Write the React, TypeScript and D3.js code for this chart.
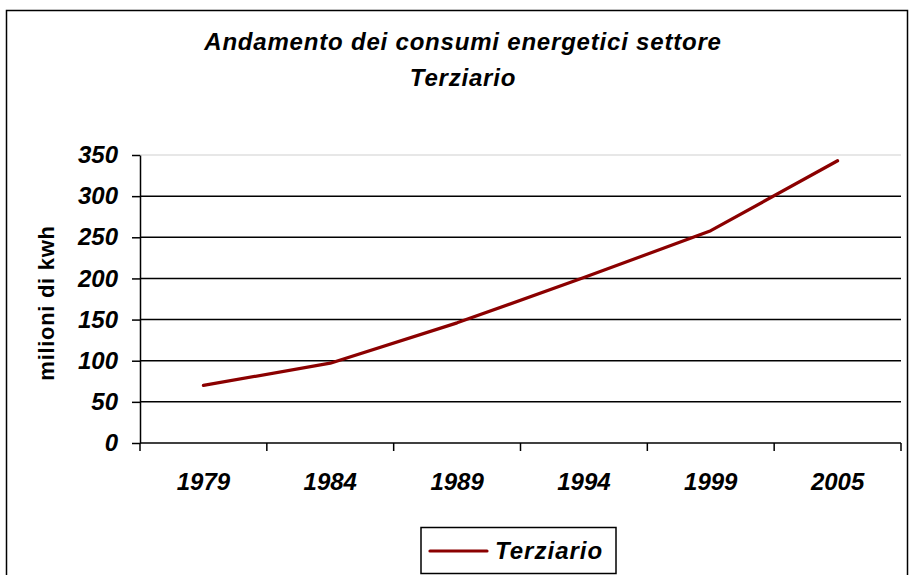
import React, { useEffect, useRef } from "react";
import * as d3 from "d3";

const years = ["1979", "1984", "1989", "1994", "1999", "2005"];
const terziario = [70, 97, 146, 201, 258, 343];
const yTicks = [0, 50, 100, 150, 200, 250, 300, 350];

const W = 909;
const H = 575;
const FONT = "'Liberation Sans', Arial, sans-serif";

const App: React.FC = () => {
  const ref = useRef<SVGSVGElement | null>(null);

  useEffect(() => {
    const svg = d3.select(ref.current);
    svg.selectAll("*").remove();

    const plot = { left: 140, right: 901, top: 155, bottom: 443 };

    const x = d3.scaleBand<string>().domain(years).range([plot.left, plot.right]);
    const y = d3.scaleLinear().domain([0, 350]).range([plot.bottom, plot.top]);

    // outer frame
    svg
      .append("rect")
      .attr("x", 6.5)
      .attr("y", 10.5)
      .attr("width", 901)
      .attr("height", 580)
      .attr("fill", "#fff")
      .attr("stroke", "#000")
      .attr("stroke-width", 1.5);

    // title
    const title = svg
      .append("text")
      .attr("text-anchor", "middle")
      .attr("font-family", FONT)
      .attr("font-weight", "bold")
      .attr("font-style", "italic")
      .attr("font-size", 24)
      .attr("letter-spacing", 0.8)
      .attr("fill", "#000");
    title.append("tspan").attr("x", 463).attr("y", 50).text("Andamento dei consumi energetici settore");
    title.append("tspan").attr("x", 463).attr("y", 86).text("Terziario");

    // top border of plot area (light)
    svg
      .append("line")
      .attr("x1", plot.left)
      .attr("x2", plot.right)
      .attr("y1", y(350))
      .attr("y2", y(350))
      .attr("stroke", "#cfcfcf")
      .attr("stroke-width", 1.2);

    // gridlines
    svg
      .append("g")
      .selectAll("line")
      .data(yTicks.filter((t) => t > 0 && t < 350))
      .enter()
      .append("line")
      .attr("x1", plot.left)
      .attr("x2", plot.right)
      .attr("y1", (d) => y(d))
      .attr("y2", (d) => y(d))
      .attr("stroke", "#000")
      .attr("stroke-width", 1.5);

    // y axis
    const yAxis = svg
      .append("g")
      .attr("transform", `translate(${plot.left},0)`)
      .call(d3.axisLeft(y).tickValues(yTicks).tickSize(8).tickSizeOuter(0).tickPadding(14));
    yAxis.select(".domain").attr("stroke", "#000").attr("stroke-width", 1.5);
    yAxis.selectAll(".tick line").attr("stroke", "#000").attr("stroke-width", 1.5);
    yAxis
      .selectAll(".tick text")
      .attr("font-family", FONT)
      .attr("font-weight", "bold")
      .attr("font-style", "italic")
      .attr("font-size", 24)
      .attr("fill", "#000");

    // x axis: ticks at band boundaries
    const xAxisG = svg.append("g");
    xAxisG
      .append("line")
      .attr("x1", plot.left)
      .attr("x2", plot.right)
      .attr("y1", plot.bottom)
      .attr("y2", plot.bottom)
      .attr("stroke", "#000")
      .attr("stroke-width", 1.5);
    const boundaries = years.map((d) => x(d) as number).concat([plot.right]);
    xAxisG
      .selectAll("line.tk")
      .data(boundaries)
      .enter()
      .append("line")
      .attr("class", "tk")
      .attr("x1", (d) => d)
      .attr("x2", (d) => d)
      .attr("y1", plot.bottom)
      .attr("y2", plot.bottom + 8)
      .attr("stroke", "#000")
      .attr("stroke-width", 1.5);
    xAxisG
      .selectAll("text")
      .data(years)
      .enter()
      .append("text")
      .attr("x", (d) => (x(d) as number) + x.bandwidth() / 2)
      .attr("y", 490)
      .attr("text-anchor", "middle")
      .attr("font-family", FONT)
      .attr("font-weight", "bold")
      .attr("font-style", "italic")
      .attr("font-size", 24)
      .attr("fill", "#000")
      .text((d) => d);

    // y axis label
    svg
      .append("text")
      .attr("transform", `translate(54,303) rotate(-90)`)
      .attr("text-anchor", "middle")
      .attr("font-family", FONT)
      .attr("font-weight", "bold")
      .attr("font-size", 22)
      .attr("letter-spacing", 0.7)
      .attr("fill", "#000")
      .text("milioni di kwh");

    // series line
    const line = d3
      .line<number>()
      .x((_, i) => (x(years[i]) as number) + x.bandwidth() / 2)
      .y((d) => y(d));
    svg
      .append("path")
      .datum(terziario)
      .attr("d", line)
      .attr("fill", "none")
      .attr("stroke", "#8b0000")
      .attr("stroke-width", 3.2)
      .attr("stroke-linecap", "round")
      .attr("stroke-linejoin", "round");

    // legend
    const lg = svg.append("g");
    lg.append("rect")
      .attr("x", 421)
      .attr("y", 527.5)
      .attr("width", 195)
      .attr("height", 46)
      .attr("fill", "#fff")
      .attr("stroke", "#000")
      .attr("stroke-width", 1.5);
    lg.append("line")
      .attr("x1", 430)
      .attr("x2", 487)
      .attr("y1", 551)
      .attr("y2", 551)
      .attr("stroke", "#8b0000")
      .attr("stroke-width", 3.2)
      .attr("stroke-linecap", "round");
    lg.append("text")
      .attr("x", 495)
      .attr("y", 559)
      .attr("font-family", FONT)
      .attr("font-weight", "bold")
      .attr("font-style", "italic")
      .attr("font-size", 24)
      .attr("letter-spacing", 1)
      .attr("fill", "#000")
      .text("Terziario");
  }, []);

  return (
    <svg
      ref={ref}
      width={W}
      height={H}
      viewBox={`0 0 ${W} ${H}`}
      style={{ position: "absolute", left: 0, top: 0, background: "#fff" }}
    />
  );
};

export default App;
